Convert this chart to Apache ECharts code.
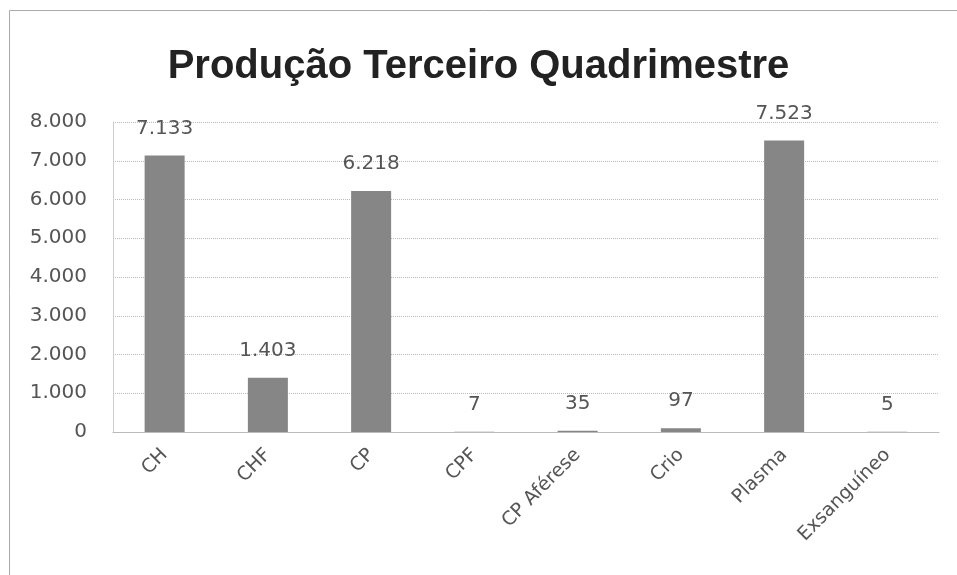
<!DOCTYPE html>
<html>
<head>
<meta charset="utf-8">
<script src="https://cdn.jsdelivr.net/npm/echarts@6/dist/echarts.min.js"></script>
<style>
  html, body { margin: 0; padding: 0; background: #fff; }
  #chart { width: 957px; height: 575px; }
</style>
</head>
<body>
<div id="chart"></div>
<script>
  // dados do gráfico
  var categorias = ['CH', 'CHF', 'CP', 'CPF', 'CP Aférese', 'Crio', 'Plasma', 'Exsanguíneo'];
  var producao = [7133, 1403, 6218, 7, 35, 97, 7523, 5];
  var titulo = 'Produção Terceiro Quadrimestre';

  function fmt(v) {
    return String(v).replace(/\B(?=(\d{3})+(?!\d))/g, '.');
  }

  var myChart = echarts.init(document.getElementById('chart'));
  myChart.setOption({
    animation: false,
    textStyle: { fontFamily: 'DejaVu Sans' },
    title: {
      text: titulo,
      left: 'center',
      top: 42,
      textStyle: { fontSize: 40, fontWeight: 'bold', color: '#222', fontFamily: 'Liberation Sans' }
    },
    graphic: [{
      type: 'rect',
      left: 7, top: 8,
      shape: { width: 980, height: 600 },
      style: { fill: 'none', stroke: '#aaa', lineWidth: 1 },
      silent: true
    }],
    grid: { left: 113, right: 18, top: 122, bottom: 143 },
    xAxis: {
      type: 'category',
      data: categorias,
      axisLine: { lineStyle: { color: '#bbb' } },
      axisTick: { show: false },
      axisLabel: { rotate: 45, fontSize: 19, color: '#555', margin: 20, fontFamily: 'DejaVu Sans' }
    },
    yAxis: {
      type: 'value',
      min: 0, max: 8000, interval: 1000,
      axisLine: { show: true, lineStyle: { color: '#ccc' } },
      axisTick: { show: false },
      splitLine: { lineStyle: { color: '#bbb', type: 'dotted' } },
      axisLabel: { fontSize: 20, color: '#555', margin: 26, formatter: fmt, fontFamily: 'DejaVu Sans' }
    },
    series: [{
      type: 'bar',
      data: producao,
      barWidth: 40,
      itemStyle: { color: '#868686' },
      label: {
        show: true,
        position: 'top',
        distance: 17,
        fontSize: 20,
        color: '#555',
        fontFamily: 'DejaVu Sans',
        formatter: function (p) { return fmt(p.value); }
      }
    }]
  });
</script>
</body>
</html>
